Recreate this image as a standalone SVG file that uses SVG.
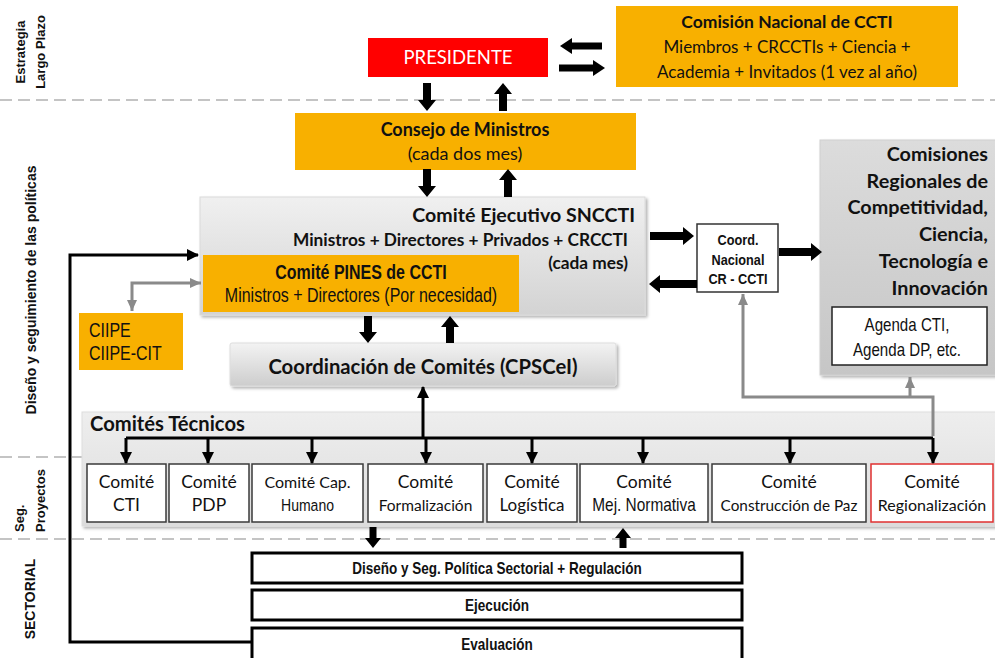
<svg xmlns="http://www.w3.org/2000/svg" width="995" height="658" viewBox="0 0 995 658">
<style>
.c{font-family:Lato,"Open Sans",sans-serif;fill:#111}
.n{font-family:"Liberation Sans",Arial,sans-serif;fill:#111}
.a{font-family:"Liberation Sans",Arial,sans-serif;font-weight:bold;fill:#111}
.b{font-weight:bold}
.m{text-anchor:middle}
.e{text-anchor:end}
.or{fill:#F8B000}
.dash{stroke:#C4C4C4;stroke-width:2;stroke-dasharray:12 6;fill:none}
.blk{fill:#000}
.ln{stroke:#000;stroke-width:3;fill:none}
.gl{stroke:#8A8A8A;stroke-width:3;fill:none}
.cm{fill:#fff;stroke:#3A3A3A;stroke-width:1.5}
.sec{fill:#fff;stroke:#000;stroke-width:3}
</style>
<defs>
<linearGradient id="gSN" x1="0" y1="0" x2="0" y2="1"><stop offset="0" stop-color="#F0F0F0"/><stop offset="1" stop-color="#D3D3D3"/></linearGradient>
<linearGradient id="gCR" x1="0" y1="0" x2="0" y2="1"><stop offset="0" stop-color="#DCDCDC"/><stop offset="1" stop-color="#C6C6C6"/></linearGradient>
<linearGradient id="gCC" x1="0" y1="0" x2="0" y2="1"><stop offset="0" stop-color="#F3F3F3"/><stop offset="1" stop-color="#CDCDCD"/></linearGradient>
<linearGradient id="gCT" x1="0" y1="0" x2="0" y2="1"><stop offset="0" stop-color="#EEEEEE"/><stop offset="1" stop-color="#DCDCDC"/></linearGradient>
<filter id="sh" x="-5%" y="-5%" width="110%" height="120%"><feDropShadow dx="2" dy="2" stdDeviation="1.5" flood-color="#000" flood-opacity="0.3"/></filter>
<marker id="ah" markerUnits="userSpaceOnUse" markerWidth="12" markerHeight="12" refX="11" refY="6" orient="auto"><path d="M0,0 L12,6 L0,12 z" fill="#000"/></marker>
<marker id="ag" markerUnits="userSpaceOnUse" markerWidth="12" markerHeight="12" refX="11" refY="6" orient="auto-start-reverse"><path d="M0,1 L11,6 L0,11 z" fill="#8A8A8A"/></marker>
</defs>
<rect width="995" height="658" fill="#fff"/>

<g id="separators">
<line class="dash" x1="0" y1="100" x2="995" y2="100"/>
<line class="dash" x1="0" y1="457" x2="995" y2="457"/>
<line class="dash" x1="0" y1="539" x2="995" y2="539"/>
</g>

<g id="side-labels">
<text class="a m" font-size="13" transform="translate(25,52) rotate(-90)">Estrategia</text>
<text class="a m" font-size="13" transform="translate(45,52) rotate(-90)">Largo Plazo</text>
<text class="a m" font-size="14" transform="translate(36,290) rotate(-90)">Diseño y seguimiento de las políticas</text>
<text class="a" font-size="13" transform="translate(24,532) rotate(-90)">Seg.</text>
<text class="a" font-size="13" transform="translate(45,532) rotate(-90)">Proyectos</text>
<text class="a m" font-size="14" transform="translate(35,599) rotate(-90)">SECTORIAL</text>
</g>

<g id="presidente">
<rect x="368" y="38" width="180" height="39" fill="#FF0000"/>
<text class="c m" x="458" y="64" font-size="18.5" style="fill:#fff">PRESIDENTE</text>
</g>

<g id="comision-nacional">
<rect class="or" x="616" y="6" width="342" height="81"/>
<text class="c m b" x="787" y="28" font-size="17.5">Comisión Nacional de CCTI</text>
<text class="c m" x="787" y="53" font-size="17">Miembros + CRCCTIs + Ciencia +</text>
<text class="c m" x="787" y="78" font-size="17">Academia + Invitados (1 vez al año)</text>
</g>

<g id="consejo">
<rect class="or" x="295" y="113" width="341" height="57"/>
<text class="c m b" x="465" y="136" font-size="18">Consejo de Ministros</text>
<text class="c m" x="465" y="160" font-size="18">(cada dos mes)</text>
</g>

<g id="snccti">
<rect x="200" y="197" width="445" height="118" fill="url(#gSN)" stroke="#DADADA" filter="url(#sh)"/>
<text class="c e b" x="635" y="222" font-size="19.6">Comité Ejecutivo SNCCTI</text>
<text class="c e b" x="628" y="246" font-size="17.3">Ministros + Directores + Privados + CRCCTI</text>
<text class="c e b" x="628" y="269" font-size="17.3">(cada mes)</text>
</g>

<g id="pines">
<rect class="or" x="203" y="255" width="316" height="57"/>
<text class="n m b" font-size="19.5" transform="translate(361,279) scale(0.82,1)">Comité PINES de CCTI</text>
<text class="n m" font-size="19.5" transform="translate(361,302) scale(0.82,1)">Ministros + Directores (Por necesidad)</text>
</g>

<g id="ciipe">
<rect class="or" x="79" y="313" width="104" height="57"/>
<text class="n" font-size="19.5" transform="translate(89,337) scale(0.82,1)">CIIPE</text>
<text class="n" font-size="19.5" transform="translate(89,360) scale(0.82,1)">CIIPE-CIT</text>
</g>

<g id="coord-nacional">
<rect x="697" y="224" width="81" height="68" fill="#fff" stroke="#333" stroke-width="1.5"/>
<text class="n m b" font-size="15.5" transform="translate(738,245) scale(0.82,1)">Coord.</text>
<text class="n m b" font-size="15.5" transform="translate(738,265) scale(0.82,1)">Nacional</text>
<text class="n m b" font-size="15.5" transform="translate(738,284) scale(0.82,1)">CR - CCTI</text>
</g>

<g id="comisiones-regionales">
<rect x="820" y="140" width="185" height="235" fill="url(#gCR)" stroke="#D0D0D0" filter="url(#sh)"/>
<text class="c e b" x="988" y="161" font-size="19.8">Comisiones</text>
<text class="c e b" x="988" y="188" font-size="19.8">Regionales de</text>
<text class="c e b" x="988" y="214" font-size="19.8">Competitividad,</text>
<text class="c e b" x="988" y="241" font-size="19.8">Ciencia,</text>
<text class="c e b" x="988" y="268" font-size="19.8">Tecnología e</text>
<text class="c e b" x="988" y="295" font-size="19.8">Innovación</text>
</g>

<g id="agenda">
<rect x="832" y="307" width="155" height="58" fill="#fff" stroke="#222" stroke-width="1.5"/>
<text class="n m" font-size="18" transform="translate(907,331) scale(0.84,1)">Agenda CTI,</text>
<text class="n m" font-size="18" transform="translate(907,356) scale(0.84,1)">Agenda DP, etc.</text>
</g>

<g id="coordinacion-comites">
<rect x="230" y="343" width="386" height="43" rx="2" fill="url(#gCC)" stroke="#DDDDDD" filter="url(#sh)"/>
<text class="c m b" x="423" y="374" font-size="20.3">Coordinación de Comités (CPSCeI)</text>
</g>

<g id="comites-tecnicos">
<rect x="82" y="412" width="920" height="114" fill="url(#gCT)" stroke="#DDDDDD" filter="url(#sh)"/>
<text class="c b" x="90" y="431" font-size="20.2">Comités Técnicos</text>
</g>

<g id="comite-cti"><rect class="cm" x="87" y="464" width="79" height="58"/>
<text class="c m" x="126.5" y="488" font-size="17.5">Comité</text><text class="c m" x="126.5" y="511" font-size="17.5">CTI</text></g>
<g id="comite-pdp"><rect class="cm" x="169" y="464" width="80" height="58"/>
<text class="c m" x="209" y="488" font-size="17.5">Comité</text><text class="c m" x="209" y="511" font-size="17.5">PDP</text></g>
<g id="comite-cap"><rect class="cm" x="252" y="464" width="111" height="58"/>
<text class="c m" x="307.5" y="488" font-size="16">Comité Cap.</text><text class="n m" font-size="16.5" transform="translate(307.5,511) scale(0.85,1)">Humano</text></g>
<g id="comite-formalizacion"><rect class="cm" x="368" y="464" width="115" height="58"/>
<text class="c m" x="425.5" y="488" font-size="17.5">Comité</text><text class="c m" x="425.5" y="511" font-size="15.5">Formalización</text></g>
<g id="comite-logistica"><rect class="cm" x="487" y="464" width="90" height="58"/>
<text class="c m" x="532" y="488" font-size="17.5">Comité</text><text class="c m" x="532" y="511" font-size="17">Logística</text></g>
<g id="comite-normativa"><rect class="cm" x="580" y="464" width="128" height="58"/>
<text class="c m" x="644" y="488" font-size="17.5">Comité</text><text class="n m" font-size="17.5" transform="translate(644,511) scale(0.88,1)">Mej. Normativa</text></g>
<g id="comite-paz"><rect class="cm" x="712" y="464" width="154" height="58"/>
<text class="c m" x="789" y="488" font-size="17.5">Comité</text><text class="c m" x="789" y="511" font-size="15.3">Construcción de Paz</text></g>
<g id="comite-regionalizacion"><rect x="871" y="464" width="122" height="58" fill="#fff" stroke="#E03030" stroke-width="1.5"/>
<text class="c m" x="932" y="488" font-size="17.5">Comité</text><text class="c m" x="932" y="511" font-size="16">Regionalización</text></g>

<g id="sector-diseno"><rect class="sec" x="252" y="553" width="490" height="30"/>
<text class="n m b" font-size="16.5" transform="translate(497,574) scale(0.82,1)">Diseño y Seg. Política Sectorial + Regulación</text></g>
<g id="sector-ejecucion"><rect class="sec" x="252" y="590" width="490" height="30"/>
<text class="n m b" font-size="16.5" transform="translate(497,611) scale(0.82,1)">Ejecución</text></g>
<g id="sector-evaluacion"><rect class="sec" x="252" y="628" width="490" height="34"/>
<text class="n m b" font-size="16.5" transform="translate(497,650) scale(0.82,1)">Evaluación</text></g>

<g id="connectors">
<polygon class="blk" points="602,42.5 572,42.5 572,38 560,46 572,54 572,49.5 602,49.5"/>
<polygon class="blk" points="559,64.5 593,64.5 593,60 605,68 593,76 593,71.5 559,71.5"/>
<polygon class="blk" points="423,83 431,83 431,100 436,100 427,111 418,100 423,100"/>
<polygon class="blk" points="499,111 507,111 507,94 512,94 503,83 494,94 499,94"/>
<polygon class="blk" points="423,169 431,169 431,186 436,186 427,197 418,186 423,186"/>
<polygon class="blk" points="504,197 512,197 512,180 517,180 508,169 499,180 504,180"/>
<polygon class="blk" points="364,316 372,316 372,332 377,332 368,343 359,332 364,332"/>
<polygon class="blk" points="446,343 454,343 454,327 459,327 450,316 441,327 446,327"/>
<polygon class="blk" points="650,232 683,232 683,227 694,236 683,245 683,240 650,240"/>
<polygon class="blk" points="697,280 660,280 660,275 649,284 660,293 660,288 697,288"/>
<polygon class="blk" points="779,248 811,248 811,243 822,252 811,261 811,256 779,256"/>
<polygon class="blk" points="369.5,527 376.5,527 376.5,538 381,538 373,548 365,538 369.5,538"/>
<polygon class="blk" points="619.5,548 626.5,548 626.5,538 631,538 623,528 615,538 619.5,538"/>
<path class="ln" d="M252,642 H70 V255 H198" marker-end="url(#ah)"/>
<path class="ln" d="M126,438 H933"/>
<path class="ln" d="M423,438 V387" marker-end="url(#ah)"/>
<path class="ln" d="M126,438 V463" marker-end="url(#ah)"/>
<path class="ln" d="M208,438 V463" marker-end="url(#ah)"/>
<path class="ln" d="M312,438 V463" marker-end="url(#ah)"/>
<path class="ln" d="M426,438 V463" marker-end="url(#ah)"/>
<path class="ln" d="M532,438 V463" marker-end="url(#ah)"/>
<path class="ln" d="M643,438 V463" marker-end="url(#ah)"/>
<path class="ln" d="M790,438 V463" marker-end="url(#ah)"/>
<path class="ln" d="M933,438 V463" marker-end="url(#ah)"/>
<path class="gl" d="M933,436 V397 H743 V294" marker-end="url(#ag)"/>
<path class="gl" d="M910,397 V377" marker-end="url(#ag)"/>
<path class="gl" d="M201,283 H132 V311" marker-start="url(#ag)" marker-end="url(#ag)"/>
</g>
</svg>
